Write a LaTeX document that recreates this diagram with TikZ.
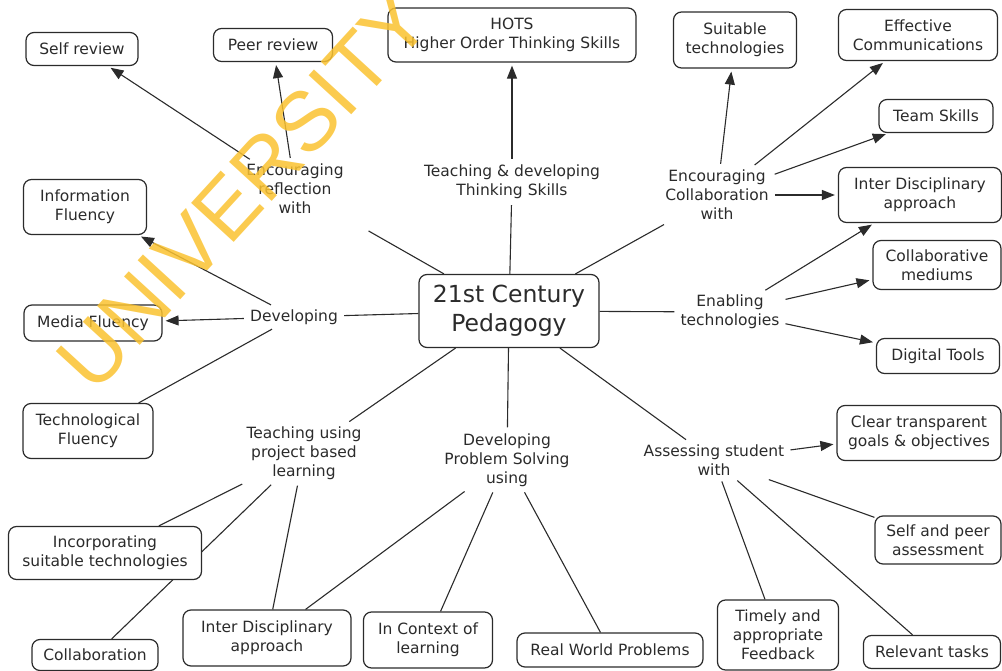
\documentclass[tikz,border=0pt]{standalone}
\usepackage{fontspec}
\setmainfont{DejaVu Sans}
\newfontfamily\wmfont{Liberation Sans}
\usetikzlibrary{arrows.meta}
\definecolor{ink}{HTML}{2B2B2B}
\definecolor{wm}{RGB}{250,194,48}
\pgfdeclarelayer{bg}
\pgfsetlayers{bg,main}
\newcommand\nf{\fontsize{15.5}{19}\selectfont}
\begin{document}
\begin{tikzpicture}[x=1pt,y=-1pt,
  box/.style={draw=ink, line width=1.2pt, rounded corners=8pt, fill=white, align=center, inner sep=0pt, text=ink, font=\nf},
  sz/.style 2 args={minimum width=#1pt, minimum height=#2pt},
  lbl/.style={align=center, inner sep=3pt, text=ink, font=\nf},
  ln/.style={draw=ink, line width=1.1pt, shorten <=3pt},
  ar/.style={ln, -{Triangle[length=13pt,width=10pt]}, shorten >=3pt}]
\useasboundingbox (0,0) rectangle (1002,671);
% boxes
\node[box,sz={112}{33}] (self) at (82,49) {Self review};
\node[box,sz={119}{33}] (peer) at (273,45) {Peer review};
\node[box,sz={248}{54}] (hots) at (512,35) {HOTS\\Higher Order Thinking Skills};
\node[box,sz={123}{56}] (suit) at (735,40) {Suitable\\technologies};
\node[box,sz={159}{51}] (eff) at (918,35) {Effective\\Communications};
\node[box,sz={114}{33}] (team) at (936,116) {Team Skills};
\node[box,sz={163}{55}] (idr) at (920,195) {Inter Disciplinary\\approach};
\node[box,sz={128}{49}] (cmed) at (937,265) {Collaborative\\mediums};
\node[box,sz={123}{35}] (dig) at (938,356) {Digital Tools};
\node[box,sz={164}{55}] (clear) at (919,433) {Clear transparent\\goals \& objectives};
\node[box,sz={126}{48}] (sp) at (938,540) {Self and peer\\assessment};
\node[box,sz={137}{33}] (rel) at (932,652) {Relevant tasks};
\node[box,sz={121}{70}] (time) at (778,635) {Timely and\\appropriate\\Feedback};
\node[box,sz={186}{34}] (rw) at (610,650) {Real World Problems};
\node[box,sz={129}{56}] (ctx) at (428,640) {In Context of\\learning};
\node[box,sz={168}{56}] (idb) at (267,638) {Inter Disciplinary\\approach};
\node[box,sz={126}{31}] (coll) at (95,655) {Collaboration};
\node[box,sz={193}{53}] (inc) at (105,553) {Incorporating\\suitable technologies};
\node[box,sz={130}{55}] (tech) at (88,431) {Technological\\Fluency};
\node[box,sz={138}{36}] (media) at (93,323) {Media Fluency};
\node[box,sz={123}{55}] (info) at (85,207) {Information\\Fluency};
\node[box,sz={180}{73},font=\fontsize{23.5}{29}\selectfont] (ctr) at (509,311) {21st Century\\Pedagogy};
% linking phrases
\node[lbl] (refl) at (295,189) {Encouraging\\reflection\\with};
\node[lbl] (tds) at (512,182) {Teaching \& developing\\Thinking Skills};
\node[lbl] (colb) at (717,195) {Encouraging\\Collaboration\\with};
\node[lbl] (dev) at (294,317) {Developing};
\node[lbl] (enab) at (730,312) {Enabling\\technologies};
\node[lbl] (proj) at (304,453) {Teaching using\\project based\\learning};
\node[lbl] (dps) at (507,460) {Developing\\Problem Solving\\using};
\node[lbl] (asl) at (714,460) {Assessing student\\with};
% connectors
\begin{pgfonlayer}{bg}
\draw[ln, shorten <=28pt] (refl) -- (ctr);
\draw[ar] (refl) -- (self);
\draw[ar] (refl) -- (peer);
\draw[ln] (tds) -- (ctr);
\draw[ar] (tds) -- (hots);
\draw[ln] (colb) -- (ctr);
\draw[ar] (colb) -- (suit);
\draw[ar] (colb) -- (eff);
\draw[ar] (colb) -- (team);
\draw[ar] (colb) -- (idr);
\draw[ln] (dev) -- (ctr);
\draw[ar] (dev) -- (info);
\draw[ar] (dev) -- (media);
\draw[ln] (dev) -- (tech);
\draw[ln] (enab) -- (ctr);
\draw[ar] (enab) -- (idr);
\draw[ar] (enab) -- (cmed);
\draw[ar] (enab) -- (dig);
\draw[ln] (asl) -- (ctr);
\draw[ar] (asl) -- (clear);
\draw[ln] (asl) -- (sp);
\draw[ln] (asl) -- (time);
\draw[ln] (asl) -- (rel);
\draw[ln] (dps) -- (ctr);
\draw[ln] (dps) -- (idb);
\draw[ln] (dps) -- (ctx);
\draw[ln] (dps) -- (rw);
\draw[ln] (proj) -- (ctr);
\draw[ln] (proj) -- (inc);
\draw[ln] (proj) -- (coll);
\draw[ln] (proj) -- (idb);
\end{pgfonlayer}
% watermark
\node[rotate=47.5, text=wm, opacity=0.85, inner sep=0pt, font=\wmfont\fontsize{84}{84}\selectfont] (wmark) at (243,190) {UNIVERSITY};
\end{tikzpicture}
\end{document}
